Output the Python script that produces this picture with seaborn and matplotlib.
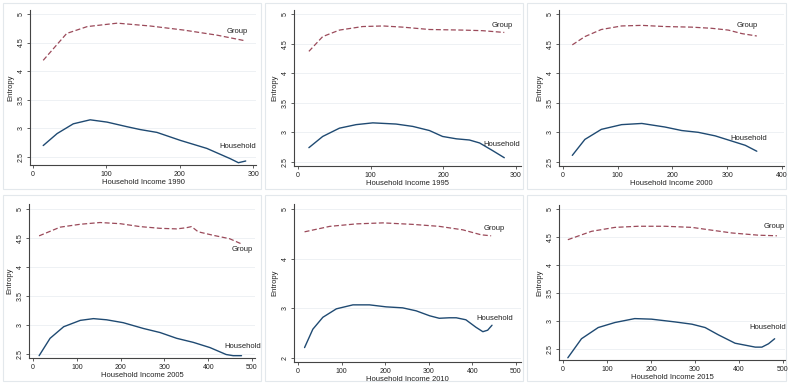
import matplotlib
matplotlib.use("Agg")
import matplotlib.pyplot as plt
import seaborn as sns
import pandas as pd
from matplotlib.patches import Rectangle

sns.set_theme(style="white")
plt.rcParams['font.family'] = ['Liberation Sans', 'DejaVu Sans']

years = ["1990", "1995", "2000", "2005", "2010", "2015"]

# --- data ---
g1990_x = [14, 46, 74, 115, 160, 205, 251, 290]
g1990_y = [4.19, 4.66, 4.78, 4.84, 4.79, 4.72, 4.63, 4.53]
h1990_x = [14, 33, 55, 78, 101, 128, 146, 169, 201, 237, 269, 280, 290]
h1990_y = [2.70, 2.91, 3.08, 3.15, 3.11, 3.03, 2.98, 2.93, 2.79, 2.65, 2.47, 2.40, 2.43]

g1995_x = [15, 34, 57, 89, 117, 144, 181, 227, 254, 284]
g1995_y = [4.37, 4.62, 4.73, 4.79, 4.80, 4.78, 4.74, 4.73, 4.72, 4.69]
h1995_x = [15, 34, 57, 80, 103, 135, 158, 181, 199, 218, 236, 250, 268, 284]
h1995_y = [2.74, 2.93, 3.07, 3.13, 3.16, 3.14, 3.10, 3.03, 2.93, 2.89, 2.87, 2.82, 2.69, 2.57]

g2000_x = [17, 40, 70, 107, 144, 186, 235, 272, 302, 327, 354]
g2000_y = [4.48, 4.62, 4.74, 4.80, 4.81, 4.79, 4.78, 4.76, 4.73, 4.67, 4.63]
h2000_x = [17, 40, 70, 107, 144, 186, 217, 247, 278, 309, 333, 354]
h2000_y = [2.61, 2.88, 3.05, 3.13, 3.15, 3.09, 3.03, 3.00, 2.94, 2.85, 2.78, 2.68]

g2005_x = [14, 62, 108, 153, 199, 244, 290, 328, 350, 362, 377, 411, 449, 476]
g2005_y = [4.54, 4.69, 4.74, 4.77, 4.75, 4.70, 4.67, 4.66, 4.68, 4.70, 4.61, 4.55, 4.49, 4.40]
h2005_x = [14, 39, 70, 108, 138, 168, 206, 252, 290, 328, 366, 404, 441, 457, 476]
h2005_y = [2.47, 2.77, 2.97, 3.08, 3.11, 3.09, 3.04, 2.94, 2.87, 2.77, 2.70, 2.61, 2.49, 2.47, 2.47]

g2010_x = [15, 73, 134, 195, 263, 324, 378, 420, 443]
g2010_y = [4.54, 4.65, 4.70, 4.72, 4.69, 4.65, 4.58, 4.48, 4.46]
h2010_x = [15, 34, 57, 88, 126, 164, 202, 240, 271, 302, 324, 347, 363, 385, 408, 424, 435, 445]
h2010_y = [2.21, 2.58, 2.82, 2.99, 3.07, 3.07, 3.03, 3.01, 2.95, 2.85, 2.80, 2.81, 2.81, 2.77, 2.62, 2.53, 2.56, 2.66]

g2015_x = [11, 65, 118, 171, 232, 293, 338, 384, 445, 486]
g2015_y = [4.45, 4.60, 4.67, 4.69, 4.69, 4.67, 4.62, 4.57, 4.53, 4.52]
h2015_x = [11, 42, 80, 118, 163, 201, 255, 293, 323, 353, 391, 437, 452, 467, 481]
h2015_y = [2.34, 2.68, 2.88, 2.97, 3.04, 3.03, 2.98, 2.94, 2.88, 2.75, 2.60, 2.53, 2.53, 2.59, 2.68]

group_x = [g1990_x, g1995_x, g2000_x, g2005_x, g2010_x, g2015_x]
group_y = [g1990_y, g1995_y, g2000_y, g2005_y, g2010_y, g2015_y]
house_x = [h1990_x, h1995_x, h2000_x, h2005_x, h2010_x, h2015_x]
house_y = [h1990_y, h1995_y, h2000_y, h2005_y, h2010_y, h2015_y]

x_ticks = [[0, 100, 200, 300], [0, 100, 200, 300], [0, 100, 200, 300, 400],
           [0, 100, 200, 300, 400, 500], [0, 100, 200, 300, 400, 500],
           [0, 100, 200, 300, 400, 500]]
y_ticks = [[2.5, 3, 3.5, 4, 4.5, 5]] * 4 + [[2, 3, 4, 5]] + [[2.5, 3, 3.5, 4, 4.5, 5]]
y_ticklabels = [["2.5", "3", "3.5", "4", "4.5", "5"]] * 4 + [["2", "3", "4", "5"]] + [["2.5", "3", "3.5", "4", "4.5", "5"]]

# label positions (data coords)
group_lab = [(279, 4.70), (281, 4.80), (336, 4.80), (478, 4.30), (450, 4.60), (479, 4.68)]
house_lab = [(279, 2.69), (281, 2.79), (340, 2.90), (478, 2.62), (452, 2.80), (466, 2.88)]

# --- layout (pixels) ---
W, H = 789, 384
boxes = [(30, 10, 256, 165), (294, 10, 521, 166), (559, 10, 784, 166),
         (29, 204, 255, 358), (294, 204, 521, 362), (559, 205, 785, 360)]
xlims = [(-4, 304), (-5.5, 307), (-7.3, 403.7), (-9.1, 506.8), (-9.2, 511.5), (-9.1, 504.5)]
ylims = [(2.36, 5.07), (2.43, 5.07), (2.43, 5.07), (2.43, 5.09), (1.92, 5.10), (2.30, 5.07)]
panels = [(3, 3, 261, 189), (265, 3, 523, 189), (527, 3, 786, 189),
          (3, 195, 261, 381), (265, 195, 523, 381), (527, 195, 786, 381)]

fig = plt.figure(figsize=(W / 100, H / 100), dpi=100)
fig.patch.set_facecolor("white")

for (px0, py0, px1, py1) in panels:
    fig.patches.append(Rectangle((px0 / W, 1 - py1 / H), (px1 - px0) / W, (py1 - py0) / H,
                                 transform=fig.transFigure, facecolor="none",
                                 edgecolor="#e3e8ec", linewidth=0.8, zorder=-5))

GROUP_C = "#9b4a5a"
HOUSE_C = "#1f4a72"
AX_C = "#444444"

for i in range(6):
    x0, y0, x1, y1 = boxes[i]
    ax = fig.add_axes([x0 / W, 1 - y1 / H, (x1 - x0) / W, (y1 - y0) / H], zorder=2)
    ax.set_facecolor("none")
    dg = pd.DataFrame({"x": group_x[i], "y": group_y[i]})
    dh = pd.DataFrame({"x": house_x[i], "y": house_y[i]})
    sns.lineplot(data=dg, x="x", y="y", ax=ax, color=GROUP_C, linewidth=0.9,
                 linestyle=(0, (4, 2)), sort=False, estimator=None)
    sns.lineplot(data=dh, x="x", y="y", ax=ax, color=HOUSE_C, linewidth=1.0,
                 sort=False, estimator=None)
    ax.set_xlim(*xlims[i])
    ax.set_ylim(*ylims[i])
    ax.set_xticks(x_ticks[i])
    ax.set_xticklabels([str(t) for t in x_ticks[i]])
    ax.set_yticks(y_ticks[i])
    ax.set_yticklabels(y_ticklabels[i], rotation=90, va="center")
    for t in y_ticks[i]:
        ax.axhline(t, color="#eef1f4", linewidth=0.7, zorder=0)
    for s in ["top", "right"]:
        ax.spines[s].set_visible(False)
    for s in ["left", "bottom"]:
        ax.spines[s].set_color(AX_C)
        ax.spines[s].set_linewidth(0.8)
    ax.tick_params(axis="both", direction="out", length=2.5, width=0.6, color=AX_C,
                   labelsize=5, labelcolor="#222222", pad=1.5)
    ax.tick_params(axis="x", bottom=True)
    ax.tick_params(axis="y", left=True)
    ax.set_xlabel("Household Income " + years[i], fontsize=5.5, color="#222222", labelpad=1)
    ax.set_ylabel("Entropy", fontsize=5.5, color="#222222", labelpad=2)
    gx, gy = group_lab[i]
    hx, hy = house_lab[i]
    ax.text(gx, gy, "Group", fontsize=5.5, color="#222222", ha="center", va="center")
    ax.text(hx, hy, "Household", fontsize=5.5, color="#222222", ha="center", va="center")

fig.savefig("out.png", dpi=100)
